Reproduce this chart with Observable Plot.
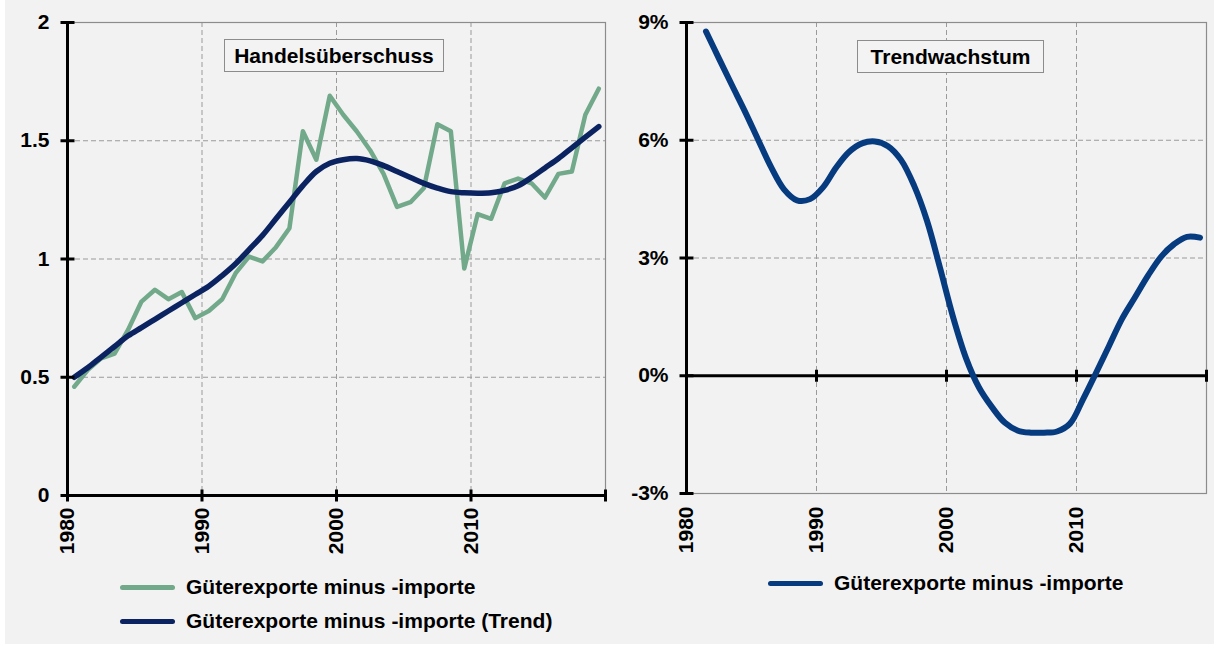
<!DOCTYPE html>
<html>
<head>
<meta charset="utf-8">
<script src="https://cdn.jsdelivr.net/npm/d3@7"></script>
<script src="https://cdn.jsdelivr.net/npm/@observablehq/plot@0.6"></script>
<style>
html,body{margin:0;padding:0;background:#fff;}
#wrap{position:relative;width:1214px;height:648px;overflow:hidden;background:#fff;font-family:"Liberation Sans",Arial,sans-serif;font-weight:bold;color:#000;}
#bg{position:absolute;left:5px;top:0;width:1209px;height:644px;background:#f2f2f2;}
.panel{position:absolute;top:0;}
.title{position:absolute;border:1px solid #8c8c8c;background:#f3f3f3;font-size:21px;display:flex;align-items:center;justify-content:center;box-sizing:border-box;}
.leg{position:absolute;display:flex;align-items:center;font-size:21px;white-space:nowrap;}
.sw{width:55px;height:5px;border-radius:3px;margin-right:11px;}
</style>
</head>
<body>
<div id="wrap">
  <div id="bg"></div>
  <div id="left" class="panel" style="left:0"></div>
  <div id="right" class="panel" style="left:607px"></div>
  <div class="title" style="left:224px;top:39px;width:220px;height:33px;">Handelsüberschuss</div>
  <div class="title" style="left:857px;top:40px;width:187px;height:33px;">Trendwachstum</div>
  <div class="leg" style="left:120px;top:575px;"><div class="sw" id="sw1"></div><span id="l1"></span></div>
  <div class="leg" style="left:120px;top:609px;"><div class="sw" id="sw2"></div><span id="l2"></span></div>
  <div class="leg" style="left:768px;top:571px;"><div class="sw" id="sw3"></div><span id="l3"></span></div>
</div>
<script>
// ---- data ----
const years = [1980,1981,1982,1983,1984,1985,1986,1987,1988,1989,1990,1991,1992,1993,1994,1995,1996,1997,1998,1999,
               2000,2001,2002,2003,2004,2005,2006,2007,2008,2009,2010,2011,2012,2013,2014,2015,2016,2017,2018,2019];
const tradeBalance = [0.46,0.53,0.58,0.60,0.70,0.82,0.87,0.83,0.86,0.75,0.78,0.83,0.94,1.01,0.99,1.05,1.13,1.54,1.42,1.69,
                      1.61,1.54,1.46,1.36,1.22,1.24,1.30,1.57,1.54,0.96,1.19,1.17,1.32,1.34,1.32,1.26,1.36,1.37,1.61,1.72];
const tradeTrend = [0.50,0.54,0.585,0.63,0.675,0.71,0.745,0.78,0.815,0.85,0.885,0.93,0.98,1.04,1.10,1.17,1.24,1.31,1.37,1.405,
                    1.42,1.425,1.415,1.395,1.37,1.345,1.32,1.30,1.285,1.28,1.278,1.28,1.29,1.31,1.345,1.385,1.425,1.47,1.515,1.56];
const growthYears = years.slice(1);
const trendGrowth = [8.77,8.08,7.4,6.73,6.02,5.32,4.75,4.47,4.5,4.8,5.3,5.7,5.92,5.97,5.85,5.5,4.85,3.95,2.75,1.5,
                     0.45,-0.3,-0.8,-1.2,-1.4,-1.45,-1.45,-1.42,-1.22,-0.6,0.07,0.76,1.45,2.0,2.55,3.03,3.35,3.54,3.52];
const leftYTicks = [0, 0.5, 1, 1.5, 2];
const rightYTicks = [-3, 0, 3, 6, 9];
const xTicks = [1980, 1990, 2000, 2010, 2020];
const xLabels = [1980, 1990, 2000, 2010];
const seriesNames = ["Güterexporte minus -importe", "Güterexporte minus -importe (Trend)"];
const colors = {green: "#72a98a", navy: "#0b2360", blue: "#063b80"};

const leftData = years.map((y, i) => ({year: y, value: tradeBalance[i], trend: tradeTrend[i]}));
const rightData = growthYears.map((y, i) => ({year: y, value: trendGrowth[i]}));
// Excel category axis: each annual point sits at the centre of its category
const mid = d => d.year + 0.5;

const hTick = {draw(ctx, size) { const r = Math.sqrt(size / Math.PI); ctx.moveTo(-r, 0); ctx.lineTo(r, 0); }};
const vTick = {draw(ctx, size) { const r = Math.sqrt(size / Math.PI); ctx.moveTo(0, -r); ctx.lineTo(0, r); }};
const gridStyle = {stroke: "#9a9a9a", strokeWidth: 1, strokeDasharray: "5,3", strokeOpacity: 1};
const font = {fontFamily: "'Liberation Sans', Arial, sans-serif", fontWeight: "bold", fontSize: "21px", background: "transparent", overflow: "visible", color: "#000"};

const left = Plot.plot({
  width: 607, height: 560,
  marginLeft: 67, marginRight: 2, marginTop: 22, marginBottom: 65,
  style: font,
  x: {domain: [1980, 2020], axis: null},
  y: {domain: [0, 2], axis: null},
  marks: [
    Plot.gridY(leftYTicks.slice(1, -1), gridStyle),
    Plot.gridX(xLabels.slice(1), gridStyle),
    Plot.frame({stroke: "#8c8c8c", strokeWidth: 1.2}),
    Plot.line(leftData, {x: mid, y: "value", stroke: colors.green, strokeWidth: 4.5, strokeLinejoin: "round", strokeLinecap: "round"}),
    Plot.line(leftData, {x: mid, y: "trend", stroke: colors.navy, strokeWidth: 5.5, curve: "catmull-rom", strokeLinecap: "round"}),
    Plot.ruleY([0], {stroke: "#000", strokeWidth: 3}),
    Plot.ruleX([1980], {stroke: "#000", strokeWidth: 3}),
    Plot.dot(leftYTicks, {x: 1980, y: d => d, symbol: hTick, r: 7, fill: "none", stroke: "#000", strokeWidth: 3}),
    Plot.dot(xTicks, {x: d => d, y: 0, symbol: vTick, r: 6, fill: "none", stroke: "#000", strokeWidth: 3}),
    Plot.axisY({ticks: leftYTicks, tickSize: 0, tickPadding: 18, tickFormat: d => String(d), label: null, fontSize: 21}),
    Plot.axisX({ticks: xLabels, tickSize: 0, tickPadding: 12, tickRotate: -90, tickFormat: d => String(d), label: null, fontSize: 21})
  ]
});
document.getElementById("left").appendChild(left);

const right = Plot.plot({
  width: 607, height: 560,
  marginLeft: 79, marginRight: 8, marginTop: 22, marginBottom: 67,
  style: font,
  x: {domain: [1980, 2020], axis: null},
  y: {domain: [-3, 9], axis: null},
  marks: [
    Plot.gridY([3, 6], gridStyle),
    Plot.gridX(xLabels.slice(1), gridStyle),
    Plot.frame({stroke: "#8c8c8c", strokeWidth: 1.2}),
    Plot.ruleY([0], {stroke: "#000", strokeWidth: 3}),
    Plot.ruleX([1980], {stroke: "#000", strokeWidth: 3}),
    Plot.dot(rightYTicks, {x: 1980, y: d => d, symbol: hTick, r: 7, fill: "none", stroke: "#000", strokeWidth: 3}),
    Plot.dot(xTicks, {x: d => d, y: 0, symbol: vTick, r: 6, fill: "none", stroke: "#000", strokeWidth: 3}),
    Plot.line(rightData, {x: mid, y: "value", stroke: colors.blue, strokeWidth: 6, curve: "catmull-rom", strokeLinecap: "round"}),
    Plot.axisY({ticks: rightYTicks, tickSize: 0, tickPadding: 18, tickFormat: d => d + "%", label: null, fontSize: 21}),
    Plot.axisX({ticks: xLabels, tickSize: 0, tickPadding: 13, tickRotate: -90, tickFormat: d => String(d), label: null, fontSize: 21})
  ]
});
document.getElementById("right").appendChild(right);

document.getElementById("sw1").style.background = colors.green;
document.getElementById("sw2").style.background = colors.navy;
document.getElementById("sw3").style.background = colors.blue;
document.getElementById("l1").textContent = seriesNames[0];
document.getElementById("l2").textContent = seriesNames[1];
document.getElementById("l3").textContent = seriesNames[0];
</script>
</body>
</html>
